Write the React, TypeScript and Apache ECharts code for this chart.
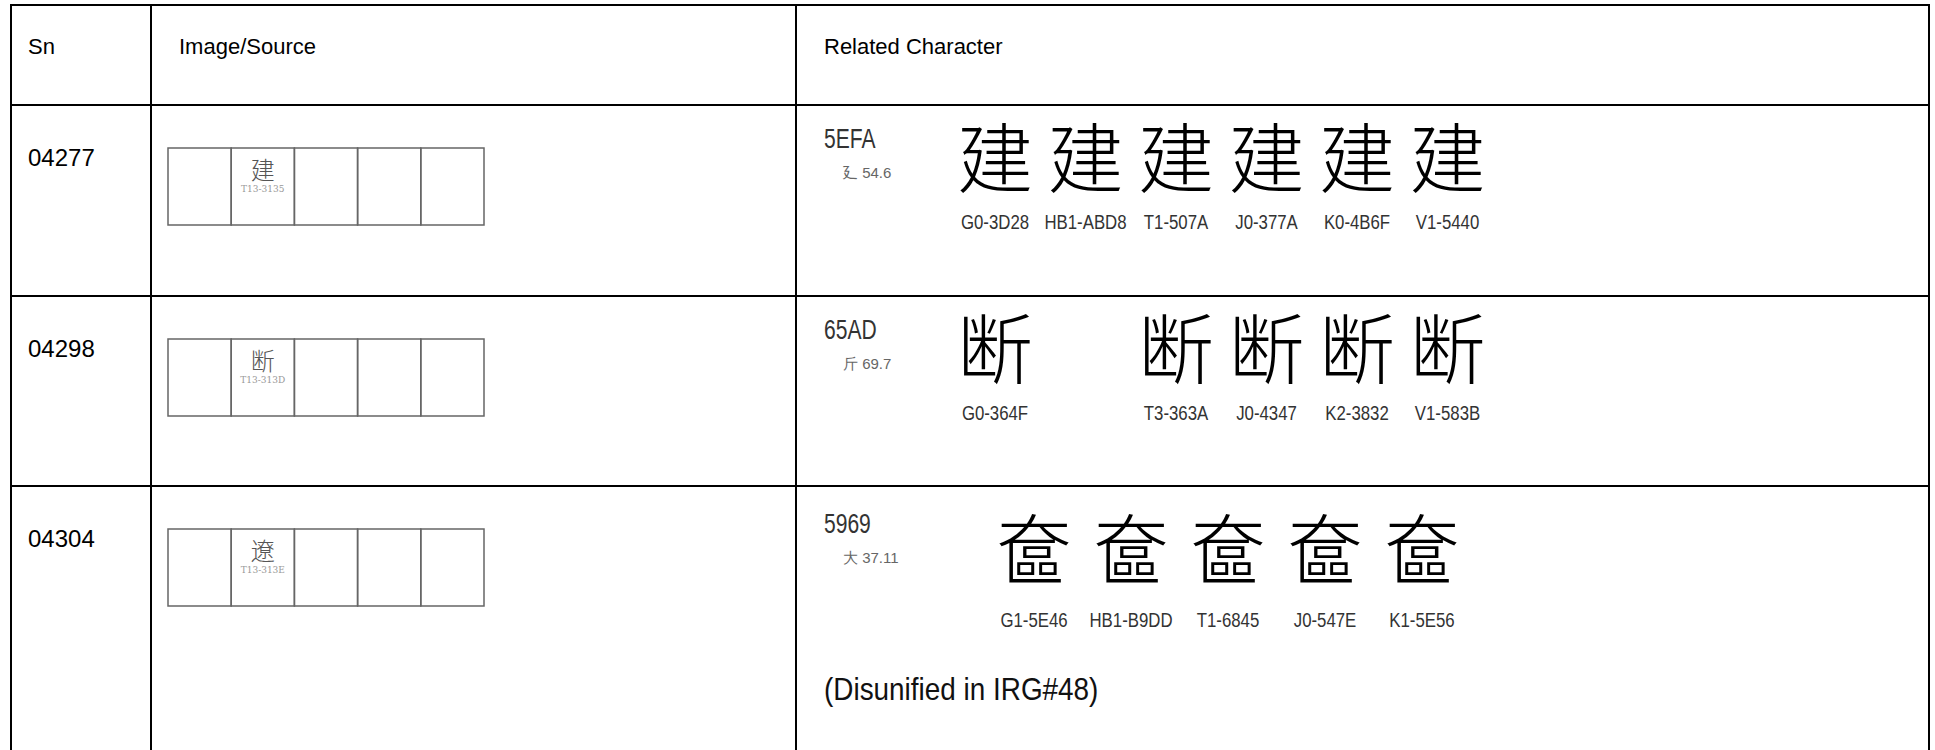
import React, { useEffect, useRef } from "react";
import * as echarts from "echarts";

const headers = ["Sn", "Image/Source", "Related Character"];
const snList = ["04277", "04298", "04304"];
const sourceGlyphs = ["建", "断", "遼"];
const sourceCodes = ["T13-3135", "T13-313D", "T13-313E"];
const hexCodes = ["5EFA", "65AD", "5969"];
const radicals = ["廴 54.6", "斤 69.7", "大 37.11"];
const relatedChars = ["建", "断", "奩"];
const relatedSources1 = ["G0-3D28", "HB1-ABD8", "T1-507A", "J0-377A", "K0-4B6F", "V1-5440"];
const relatedSources2 = ["G0-364F", "", "T3-363A", "J0-4347", "K2-3832", "V1-583B"];
const relatedSources3 = ["G1-5E46", "HB1-B9DD", "T1-6845", "J0-547E", "K1-5E56"];
const notes = ["", "", "(Disunified in IRG#48)"];

const relatedSources = [relatedSources1, relatedSources2, relatedSources3];

// layout
const COLS = [11, 151, 796, 1929];
const ROWS = [5, 105, 296, 486];
const BOTTOM = 750;
const SANS = "'Liberation Sans', Arial, sans-serif";
const CJK = "'Noto Sans CJK SC', 'Noto Sans CJK JP', sans-serif";

function txt(text: string, x: number, y: number, opts: any, scaleX = 1) {
  return {
    type: "text",
    x,
    y,
    scaleX,
    style: {
      text,
      x: 0,
      y: 0,
      fontFamily: SANS,
      fill: "#000",
      textAlign: "left",
      textVerticalAlign: "middle",
      ...opts,
    },
  };
}

function buildGraphic() {
  const els: any[] = [];
  COLS.forEach((x) => {
    els.push({
      type: "line",
      shape: { x1: x, y1: ROWS[0] - 1, x2: x, y2: BOTTOM },
      style: { stroke: "#000", lineWidth: 2 },
    });
  });
  ROWS.forEach((y) => {
    els.push({
      type: "line",
      shape: { x1: COLS[0], y1: y, x2: COLS[3], y2: y },
      style: { stroke: "#000", lineWidth: 2 },
    });
  });
  const headerX = [28, 179, 824];
  headers.forEach((h, i) => {
    els.push(txt(h, headerX[i], 46, { fontSize: 22 }));
  });

  snList.forEach((sn, r) => {
    const top = ROWS[r + 1];
    els.push(txt(sn, 28, top + 52, { fontSize: 24 }));
    const bx = 168;
    const cw = 63.2;
    const by = top + 43;
    const bh = 77;
    for (let c = 0; c < 5; c++) {
      els.push({
        type: "rect",
        shape: { x: bx + c * cw, y: by, width: cw, height: bh },
        style: { fill: "none", stroke: "#666", lineWidth: 1.5 },
      });
    }
    const gcx = bx + cw * 1.5;
    els.push(
      txt(sourceGlyphs[r], gcx, by + 20, {
        fontSize: 24,
        fontFamily: CJK,
        fontWeight: 300,
        fill: "#555",
        textAlign: "center",
      })
    );
    els.push(
      txt(sourceCodes[r], gcx, by + 41, {
        fontSize: 9,
        fontFamily: "'DejaVu Serif', serif",
        fill: "#999",
        textAlign: "center",
      })
    );
    const hexY = r === 2 ? top + 38 : top + 34;
    els.push(txt(hexCodes[r], 824, hexY, { fontSize: 27, fill: "#333" }, 0.78));
    els.push(txt(radicals[r], 843, hexY + 33, { fontSize: 15, fill: "#666" }));
    const srcs = relatedSources[r];
    const startX = r === 2 ? 1034 : 995;
    const step = r === 2 ? 97 : 90.5;
    const glyphY = r === 2 ? top + 59 : top + 49;
    const labelY = r === 2 ? top + 134 : top + 117;
    srcs.forEach((s, k) => {
      if (!s) return;
      const cx = startX + k * step;
      els.push(
        txt(relatedChars[r], cx, glyphY, {
          fontSize: 76,
          fontFamily: CJK,
          fontWeight: 300,
          fill: "#000",
          textAlign: "center",
        })
      );
      els.push(
        txt(s, cx, labelY, { fontSize: 21, fill: "#333", textAlign: "center" }, 0.8)
      );
    });
    if (notes[r]) {
      els.push(txt(notes[r], 824, top + 203, { fontSize: 31, fill: "#111" }, 0.9));
    }
  });
  return els;
}

export default function App() {
  const ref = useRef<HTMLDivElement>(null);
  useEffect(() => {
    if (!ref.current) return;
    const chart = echarts.init(ref.current, null, { renderer: "svg" });
    chart.setOption({
      animation: false,
      backgroundColor: "#fff",
      graphic: { elements: buildGraphic() },
    });
    return () => chart.dispose();
  }, []);
  return (
    <div
      ref={ref}
      style={{ position: "fixed", left: 0, top: 0, width: 1935, height: 750, background: "#fff" }}
    />
  );
}
